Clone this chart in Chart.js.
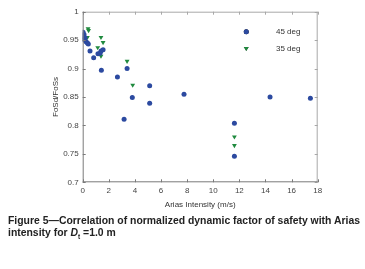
<!DOCTYPE html>
<html>
<head>
<meta charset="utf-8">
<script src="https://cdn.jsdelivr.net/npm/chart.js@4/dist/chart.umd.min.js"></script>
<style>
  html, body { margin: 0; padding: 0; background: #fff; }
  #wrap { position: relative; width: 365px; height: 269px; overflow: hidden; }
  #c { position: absolute; left: 0; top: 0; }
  #cap { position: absolute; left: 8px; top: 214px; font-family: "Liberation Sans Narrow", "Liberation Sans", Arial, sans-serif; font-weight: bold; font-size: 11.3px; line-height: 12px; color: #222; white-space: nowrap; }
  #cap span.l { display: block; transform-origin: 0 0; }
</style>
</head>
<body>
<div id="wrap">
  <canvas id="c" width="365" height="269"></canvas>
  <div id="cap"><span class="l" id="l1">Figure 5—Correlation of normalized dynamic factor of safety with Arias</span><span class="l" id="l2">intensity for <i>D</i><sub style="font-size:7px;line-height:0">t</sub> =1.0 m</span></div>
</div>
<script>
// ---- data ----
const xTickLabels = ['0','2','4','6','8','10','12','14','16','18'];
const yTickLabels = ['0.7','0.75','0.8','0.85','0.9','0.95','1'];

const deg45X = [0.03, 0.10, 0.05, 0.18, 0.13, 0.26, 0.36, 0.43, 0.00, 0.56, 0.84, 1.17, 1.33, 1.40, 1.56, 1.43, 2.66, 3.40, 3.17, 3.80, 5.13, 5.13, 7.76, 11.62, 11.62, 14.35, 17.44];
const deg45Y = [0.964, 0.960, 0.956, 0.954, 0.950, 0.947, 0.945, 0.943, 0.952, 0.931, 0.919, 0.926, 0.927, 0.931, 0.933, 0.897, 0.885, 0.900, 0.811, 0.849, 0.870, 0.839, 0.855, 0.804, 0.746, 0.850, 0.848];

const deg35X = [0.41, 0.45, 0.36, 1.40, 1.15, 1.56, 1.40, 3.40, 3.83, 11.62, 11.62];
const deg35Y = [0.970, 0.967, 0.955, 0.955, 0.937, 0.946, 0.922, 0.913, 0.871, 0.780, 0.765];

const seriesNames = ['45 deg', '35 deg'];
const blue = '#2c4aa0';
const green = '#1f8a3e';

function pts(xs, ys) { return xs.map((x, i) => ({ x: x, y: ys[i] })); }

const framePlugin = {
  id: 'frame',
  afterDraw(chart) {
    const ctx = chart.ctx;
    const a = chart.chartArea;
    const xs = chart.scales.x, ys = chart.scales.y;
    ctx.save();
    ctx.lineWidth = 1;
    // top and right (lighter)
    ctx.strokeStyle = '#a8a8a8';
    ctx.beginPath();
    ctx.moveTo(a.left, a.top + 0.5); ctx.lineTo(a.right, a.top + 0.5);
    ctx.moveTo(a.right - 0.5, a.top); ctx.lineTo(a.right - 0.5, a.bottom);
    ctx.stroke();
    ctx.beginPath();
    xs.ticks.forEach(t => { const p = Math.round(xs.getPixelForValue(t.value)) + 0.5; ctx.moveTo(p, a.top); ctx.lineTo(p, a.top + 3); });
    ys.ticks.forEach(t => { const p = Math.round(ys.getPixelForValue(t.value)) + 0.5; ctx.moveTo(a.right, p); ctx.lineTo(a.right - 3, p); });
    ctx.stroke();
    // left and bottom (darker)
    ctx.strokeStyle = '#7a7a7a';
    ctx.beginPath();
    ctx.moveTo(a.left + 0.5, a.top); ctx.lineTo(a.left + 0.5, a.bottom);
    ctx.moveTo(a.left, a.bottom - 0.5); ctx.lineTo(a.right, a.bottom - 0.5);
    xs.ticks.forEach(t => { const p = Math.round(xs.getPixelForValue(t.value)) + 0.5; ctx.moveTo(p, a.bottom); ctx.lineTo(p, a.bottom - 3); });
    ys.ticks.forEach(t => { const p = Math.round(ys.getPixelForValue(t.value)) + 0.5; ctx.moveTo(a.left, p); ctx.lineTo(a.left + 3, p); });
    ctx.stroke();

    // legend inside plot
    const ds = chart.data.datasets;
    const lx = a.left + (a.right - a.left) * 0.696;
    const ly0 = a.top + 20, gap = 16.6;
    ctx.font = '8px "Liberation Sans", Arial, sans-serif';
    ctx.textBaseline = 'middle';
    ctx.textAlign = 'left';
    ds.forEach((d, i) => {
      const y = ly0 + i * gap;
      Chart.helpers.drawPoint(ctx, {
        pointStyle: d.pointStyle, rotation: d.rotation || 0, radius: d.pointRadius, borderWidth: 0
      }, lx, y);
      ctx.fillStyle = d.backgroundColor;
      ctx.fill();
      ctx.fillStyle = '#333';
      ctx.fillText(d.label, lx + 29.7, y);
    });
    ctx.restore();
  }
};

new Chart(document.getElementById('c'), {
  type: 'scatter',
  data: {
    datasets: [
      { label: seriesNames[0], data: pts(deg45X, deg45Y), pointStyle: 'circle', pointRadius: 2.5, backgroundColor: blue, borderColor: blue, borderWidth: 0, pointHoverRadius: 2.5 },
      { label: seriesNames[1], data: pts(deg35X, deg35Y), pointStyle: 'triangle', rotation: 180, pointRadius: 2.8, backgroundColor: green, borderColor: green, borderWidth: 0, pointHoverRadius: 2.8 }
    ]
  },
  options: {
    responsive: false,
    animation: false,
    events: [],
    layout: { padding: { left: 51, top: 11.7, right: 47.3, bottom: 59.2 } },
    plugins: { legend: { display: false }, tooltip: { enabled: false } },
    scales: {
      x: {
        type: 'linear', min: 0, max: 18,
        border: { display: false },
        grid: { drawOnChartArea: false, drawTicks: false },
        ticks: { stepSize: 2, padding: 4, color: '#444', font: { size: 8, family: '"Liberation Sans", Arial, sans-serif' },
          callback: (v) => xTickLabels[Math.round(v / 2)] },
        title: { display: true, text: 'Arias Intensity (m/s)', color: '#333', padding: 0, font: { size: 8, family: '"Liberation Sans", Arial, sans-serif' } },
        afterFit: (s) => { s.height = 27.5; }
      },
      y: {
        type: 'linear', min: 0.7, max: 1,
        border: { display: false },
        grid: { drawOnChartArea: false, drawTicks: false },
        ticks: { stepSize: 0.05, padding: 4, color: '#444', font: { size: 8, family: '"Liberation Sans", Arial, sans-serif' },
          callback: (v) => yTickLabels[Math.round((v - 0.7) / 0.05)] },
        title: { display: true, text: 'FoSd/FoSs', color: '#333', padding: 0, font: { size: 8, family: '"Liberation Sans", Arial, sans-serif' } },
        afterFit: (s) => { s.width = 31.7; }
      }
    }
  },
  plugins: [framePlugin]
});

// fit caption to reference width (condensed face)
(function () {
  const l1 = document.getElementById('l1');
  const l2 = document.getElementById('l2');
  const range = document.createRange();
  range.selectNodeContents(l1);
  const tw = range.getBoundingClientRect().width;
  const k = 352 / tw;
  l1.style.transform = 'scaleX(' + k + ')';
  l2.style.transform = 'scaleX(' + k + ')';
})();
</script>
</body>
</html>
